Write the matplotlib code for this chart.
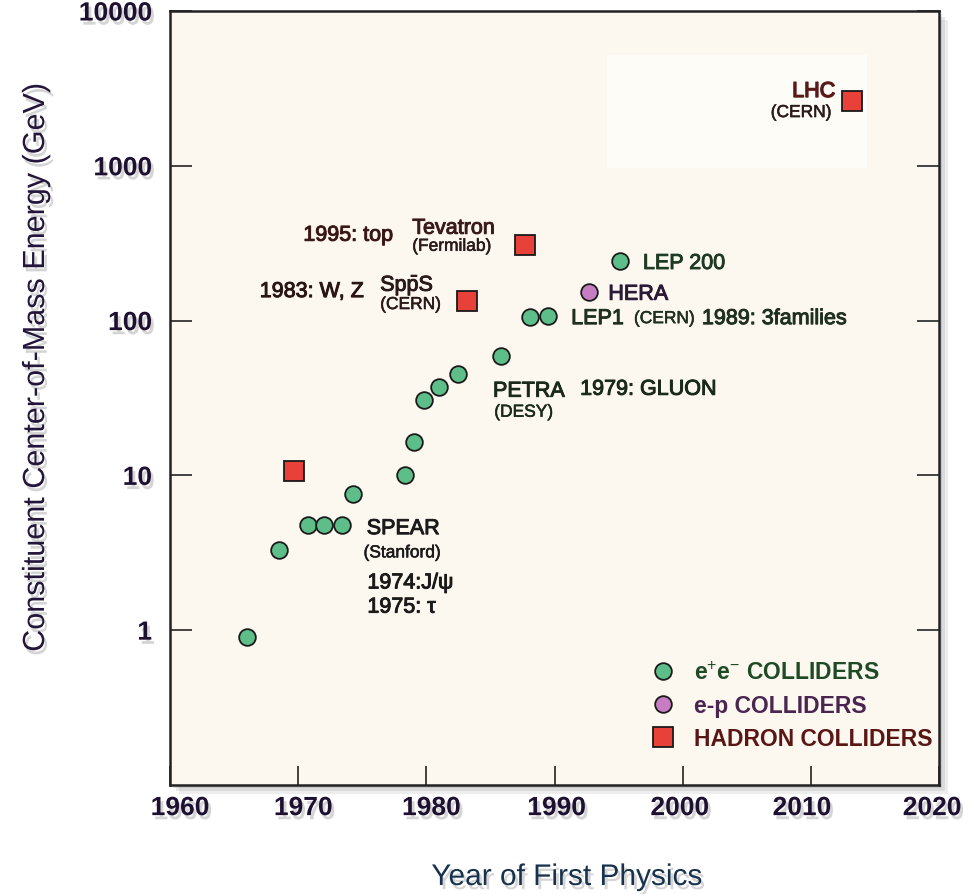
import matplotlib
matplotlib.use('Agg')
import matplotlib.pyplot as plt
from matplotlib import patheffects as pe
from matplotlib.patches import Rectangle
from matplotlib.transforms import ScaledTranslation

plt.rcParams['font.family'] = ['Liberation Sans', 'DejaVu Sans']
plt.rcParams['mathtext.fontset'] = 'custom'
plt.rcParams['mathtext.rm'] = 'Liberation Sans'
plt.rcParams['mathtext.it'] = 'Liberation Sans:italic'
plt.rcParams['mathtext.bf'] = 'Liberation Sans:bold'

# ---------------- data ----------------
ee_years = [1966.0, 1968.5, 1970.8, 1972.0, 1973.4, 1974.3, 1978.3, 1979.0,
            1979.8, 1981.0, 1982.5, 1985.8, 1988.1, 1989.5, 1995.1]
ee_energy = [0.9, 3.3, 4.8, 4.8, 4.8, 7.6, 10.1, 16.4,
             30.7, 37, 45, 59, 106, 107, 242]
ep_years = [1992.7]
ep_energy = [154]
hadron_years = [1969.7, 1983.2, 1987.7, 2013.2]
hadron_energy = [10.6, 133, 307, 2605]

x_ticks = [1960, 1970, 1980, 1990, 2000, 2010, 2020]
y_ticks = [1, 10, 100, 1000, 10000]
y_tick_labels = ['1', '10', '100', '1000', '10000']
legend_labels = [r'e$^{+}$e$^{-}$ COLLIDERS', 'e-p COLLIDERS', 'HADRON COLLIDERS']

# ---------------- styling ----------------
W, H = 970, 895
fig = plt.figure(figsize=(W / 100, H / 100), dpi=100, facecolor='white')

ax_l, ax_r, ax_t, ax_b = 170, 939, 12, 786
rect = [ax_l / W, 1 - ax_b / H, (ax_r - ax_l) / W, (ax_b - ax_t) / H]

# drop shadow of the frame
for i, a in enumerate([0.10, 0.12, 0.16]):
    off = 9 - 3 * i
    fig.patches.append(Rectangle(((ax_l + off) / W, 1 - (ax_b + off) / H),
                                 (ax_r - ax_l) / W, (ax_b - ax_t) / H,
                                 transform=fig.transFigure, facecolor='#555555',
                                 edgecolor='none', alpha=a, zorder=0))

ax = fig.add_axes(rect, zorder=2)
ax.set_facecolor('#fcf8ef')
ax.set_yscale('log')
ax.set_xlim(1960, 2020)
ax.set_ylim(0.1, 10000)

# faint lighter patch around LHC
ax.add_patch(Rectangle((1994.1, 970), 20.3, 5180 - 970, facecolor='#fefcf7',
                       edgecolor='none', zorder=0))

green = '#5dbe8a'
magenta = '#c77dc2'
red = '#e8413a'

h1, = ax.plot(ee_years, ee_energy, 'o', ms=12, mfc=green, mec='#1a1a1a', mew=1.3, zorder=3)
h2, = ax.plot(ep_years, ep_energy, 'o', ms=12, mfc=magenta, mec='#1a1a1a', mew=1.3, zorder=3)
h3, = ax.plot(hadron_years, hadron_energy, 's', ms=15, mfc=red, mec='#1a1a1a', mew=1.3, zorder=3)

# axes styling
for s in ax.spines.values():
    s.set_color('#222222')
    s.set_linewidth(1.8)
ax.minorticks_off()
ax.set_xticks(x_ticks)
ax.set_xticklabels([str(t) for t in x_ticks])
ax.set_yticks(y_ticks)
ax.set_yticklabels(y_tick_labels)
ax.tick_params(axis='y', direction='in', length=16, width=1.3, color='#333333',
               right=True, labelsize=19, labelcolor='#1e1030', pad=13)
ax.tick_params(axis='x', direction='in', length=14, width=1.3, color='#333333',
               labelsize=19, labelcolor='#1e1030', pad=8)
shadow = [pe.withSimplePatchShadow(offset=(2, -3), shadow_rgbFace='#888888', alpha=0.35)]
label_px_shift = [10, 5, 5, 2, -3, -9, -7]
for lbl, dx in zip(ax.get_xticklabels(), label_px_shift):
    lbl.set_transform(lbl.get_transform() + ScaledTranslation(dx / 100, 0, fig.dpi_scale_trans))
for lbl in ax.get_xticklabels() + ax.get_yticklabels():
    lbl.set_fontweight('bold')
    lbl.set_path_effects(shadow)

fig.text(36 / W, 1 - 369 / H, 'Constituent Center-of-Mass Energy (GeV)', rotation=90,
         ha='center', va='center', fontsize=22, color='#24163a', path_effects=shadow)
fig.text(567 / W, 1 - 878 / H, 'Year of First Physics', ha='center', va='center',
         fontsize=21.5, color='#17324d', path_effects=shadow)

# annotations
big = 15.5
small = 12.5
def t(x, y, s, c, fs=big, ha='left', sw=0.7):
    ax.text(x, y, s, color=c, fontsize=fs, ha=ha, va='center', zorder=4,
            path_effects=[pe.withStroke(linewidth=sw, foreground=c)])

t(1970.4, 356, '1995: top', '#3a1717')
t(1978.9, 395, 'Tevatron', '#3a1a1a')
t(1978.9, 302, '(Fermilab)', '#2a1a1a', small, sw=0.4)
t(1967.0, 154, '1983: W, Z', '#2a1515')
t(1976.4, 169, r'Sp$\bar{\mathrm{p}}$S', '#2a1a1a')
t(1976.4, 127, '(CERN)', '#2a1a1a', small, sw=0.4)
t(1996.9, 234, 'LEP 200', '#1f3a22')
t(1994.2, 148, 'HERA', '#2a1a35')
t(1991.3, 103, 'LEP1', '#1f3020')
t(1996.2, 103, '(CERN)', '#1f3020', small, sw=0.4)
t(2001.5, 103, '1989: 3families', '#1f3020')
t(1985.2, 35, 'PETRA', '#1a2a1a')
t(1985.3, 25.6, '(DESY)', '#1a2a1a', small, sw=0.4)
t(1992.0, 36, '1979: GLUON', '#1a2a1a')
t(1975.35, 4.53, 'SPEAR', '#1a1a1a')
t(1975.1, 3.16, '(Stanford)', '#1a1a1a', small, sw=0.4)
t(1975.4, 2.02, '1974:J/ψ', '#1a1a1a')
t(1975.4, 1.41, '1975: τ', '#1a1a1a')
t(2011.9, 3020, 'LHC', '#5a1a1a', ha='right', sw=1.0)
t(2011.6, 2208, '(CERN)', '#2a1a1a', small, ha='right', sw=0.4)

leg = ax.legend([h1, h2, h3], legend_labels, loc='upper left',
                bbox_to_anchor=(652 / W, 1 - 662 / H), bbox_transform=fig.transFigure,
                frameon=False, fontsize=16.5, handletextpad=0.85, labelspacing=0.44,
                handlelength=1.0, borderpad=0, borderaxespad=0)
for txt, c in zip(leg.get_texts(), ['#1e4a26', '#4a2550', '#5a1515']):
    txt.set_color(c)
    txt.set_fontweight('bold')

fig.savefig('out.png', dpi=100, facecolor='white')
